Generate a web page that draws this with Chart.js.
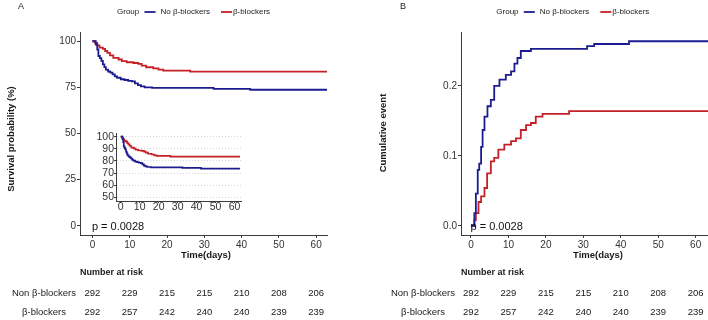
<!DOCTYPE html>
<html><head><meta charset="utf-8">
<script src="https://cdn.jsdelivr.net/npm/chart.js@4.4.1/dist/chart.umd.min.js"></script>
<style>
html,body{margin:0;padding:0;background:#fff;width:708px;height:320px;overflow:hidden}
canvas{position:absolute}
</style></head><body>
<canvas id="a" width="354" height="320" style="left:0;top:0"></canvas>
<canvas id="ai" width="162" height="92" style="left:86px;top:124px"></canvas>
<canvas id="b" width="354" height="320" style="left:354px;top:0"></canvas>
<script>
// ---- data ----
const groups = ['No β-blockers', 'β-blockers'];
const riskLabels = ['Non β-blockers', 'β-blockers'];
const xTicks = [0, 10, 20, 30, 40, 50, 60];
const survTicks = [0, 25, 50, 75, 100];
const insetTicks = [50, 60, 70, 80, 90, 100];
const cumTicks = [0, 0.1, 0.2];
const riskNo = [292, 229, 215, 215, 210, 208, 206];
const riskBB = [292, 257, 242, 240, 240, 239, 239];
const pValue = 'p = 0.0028';

// Panel A: survival probability (%)
const survNoT = [0, 0.9, 1.3, 1.6, 2.0, 2.4, 2.8, 3.2, 3.6, 4.2, 4.8, 5.4, 6.0, 6.6, 7.6, 8.6, 9.6, 10.6, 11.4, 12.2, 13.0, 14.0, 16.0, 32.5, 42.3, 62.9];
const survNoS = [100, 98.2, 95.5, 92.0, 90.8, 89.4, 87.5, 86.0, 84.6, 83.6, 83.0, 82.0, 81.0, 80.2, 79.4, 79.0, 78.5, 78.2, 77.2, 76.2, 75.5, 75.0, 74.7, 74.2, 73.7, 73.7];
const survBBT = [0, 0.7, 1.3, 1.9, 2.8, 3.4, 4.0, 4.7, 5.6, 7.0, 7.9, 9.2, 11.0, 12.3, 13.2, 14.4, 16.3, 17.7, 19.0, 26.2, 62.9];
const survBBS = [100, 99.1, 97.8, 96.5, 95.9, 94.7, 93.7, 92.3, 91.0, 90.1, 89.2, 88.6, 88.2, 87.7, 86.8, 85.9, 85.3, 84.6, 84.1, 83.5, 83.5];

// Panel B: cumulative event
const cumNoT = [0, 0.9, 1.3, 1.8, 2.2, 2.7, 3.1, 3.6, 4.4, 5.3, 6.2, 7.6, 9.3, 10.7, 11.6, 12.4, 13.3, 16.0, 31.0, 32.9, 42.2, 63.3];
const cumNoF = [0, 0.018, 0.046, 0.08, 0.089, 0.113, 0.137, 0.156, 0.171, 0.18, 0.2, 0.209, 0.216, 0.221, 0.232, 0.24, 0.25, 0.253, 0.257, 0.26, 0.264, 0.264];
const cumBBT = [0, 0.9, 1.3, 2.0, 2.7, 3.6, 4.3, 5.3, 6.2, 7.3, 8.9, 10.7, 12.0, 13.3, 14.7, 16.0, 17.3, 19.1, 26.2, 63.3];
const cumBBF = [0, 0.008, 0.018, 0.034, 0.042, 0.054, 0.075, 0.092, 0.097, 0.109, 0.116, 0.121, 0.125, 0.137, 0.144, 0.147, 0.156, 0.160, 0.164, 0.164];

// ---- style ----
const BLUE = '#1c1c8f';
const RED = '#c62128';
const AXIS = '#3c3c3c';
const FF = "'Liberation Sans', Arial, Helvetica, sans-serif";

function pts(t, v) { return t.map((x, i) => ({x: x, y: v[i]})); }
function ds(label, t, v, color, w) {
  return {label: label, data: pts(t, v), borderColor: color, backgroundColor: color,
    borderWidth: w, pointRadius: 0, stepped: true, fill: false, tension: 0};
}
function T(ctx, s, x, y, size, opt) {
  opt = opt || {};
  ctx.save();
  ctx.font = (opt.bold ? 'bold ' : '') + size + 'px ' + FF;
  ctx.fillStyle = opt.color || '#1a1a1a';
  ctx.textAlign = opt.align || 'left';
  ctx.textBaseline = 'middle';
  ctx.translate(x, y);
  if (opt.rot) ctx.rotate(opt.rot);
  ctx.fillText(s, 0, 0);
  ctx.restore();
}
function decor(L) {
  return {
    id: 'decor' + L.letter,
    afterDraw(chart) {
      const ctx = chart.ctx, xs = chart.scales.x, o = L.off;
      const dsets = chart.data.datasets;
      T(ctx, L.letter, L.letterX - o, 7, 9);
      const gx = L.legendX - o;
      T(ctx, 'Group', gx, 12, 8);
      ctx.save();
      ctx.lineWidth = 1.8;
      ctx.strokeStyle = dsets[0].borderColor;
      ctx.beginPath(); ctx.moveTo(gx + 27.5, 12); ctx.lineTo(gx + 38.5, 12); ctx.stroke();
      ctx.strokeStyle = dsets[1].borderColor;
      ctx.beginPath(); ctx.moveTo(gx + 104, 12); ctx.lineTo(gx + 115, 12); ctx.stroke();
      ctx.restore();
      T(ctx, dsets[0].label, gx + 43.5, 12, 8);
      T(ctx, dsets[1].label, gx + 116, 12, 8);
      T(ctx, L.yTitle, L.yTitleX - o, L.yTitleY, 9.5, {bold: true, align: 'center', rot: -Math.PI / 2});
      T(ctx, 'Time(days)', L.xTitleX - o, 255, 9.5, {bold: true, align: 'center'});
      T(ctx, pValue, xs.getPixelForValue(0) - 0.5, 227, 11, {color: '#111'});
      T(ctx, 'Number at risk', chart.chartArea.left, 272.7, 9, {bold: true});
      T(ctx, riskLabels[0], L.labelX - o, 293.3, 9.5, {align: 'center'});
      T(ctx, riskLabels[1], L.labelX - o, 312.7, 9.5, {align: 'center'});
      for (let i = 0; i < xTicks.length; i++) {
        const px = xs.getPixelForValue(xTicks[i]);
        T(ctx, String(riskNo[i]), px, 293.3, 9.5, {align: 'center'});
        T(ctx, String(riskBB[i]), px, 312.7, 9.5, {align: 'center'});
      }
    }
  };
}
function axisX(min, max, height, size, tl, pad) {
  return {
    type: 'linear', min: min, max: max,
    afterBuildTicks: s => { s.ticks = xTicks.map(v => ({value: v})); },
    afterFit: s => { s.height = height; },
    grid: {display: true, drawOnChartArea: false, drawTicks: true, tickLength: tl, color: AXIS, tickColor: AXIS},
    border: {display: true, color: AXIS, width: 1},
    ticks: {font: {family: FF, size: size, lineHeight: 1.2}, color: '#333', padding: pad, maxRotation: 0, autoSkip: false}
  };
}
function axisY(min, max, ticks, width, fmt) {
  return {
    type: 'linear', min: min, max: max,
    afterBuildTicks: s => { s.ticks = ticks.map(v => ({value: v})); },
    afterFit: s => { s.width = width; },
    grid: {display: true, drawOnChartArea: false, drawTicks: true, tickLength: 3, color: AXIS, tickColor: AXIS},
    border: {display: true, color: AXIS, width: 1},
    ticks: {font: {family: FF, size: 10}, color: '#333', padding: 1, callback: fmt, autoSkip: false}
  };
}
const base = {responsive: false, animation: false, devicePixelRatio: 1,
  plugins: {legend: {display: false}, tooltip: {enabled: false}, title: {display: false}}};

// Panel A
new Chart(document.getElementById('a'), {
  type: 'line',
  data: {datasets: [ds(groups[0], survNoT, survNoS, BLUE, 1.8), ds(groups[1], survBBT, survBBS, RED, 1.8)]},
  options: Object.assign({}, base, {
    layout: {padding: {left: 0, top: 32, right: 27, bottom: 0}},
    scales: {
      x: axisX(-3.33, 62.9, 85, 10, 3, 1),
      y: axisY(-5, 105, survTicks, 80, v => String(v))
    }
  }),
  plugins: [decor({letter: 'A', off: 0, letterX: 18, legendX: 117, yTitle: 'Survival probability (%)',
    yTitleX: 11, yTitleY: 139, xTitleX: 206, labelX: 44})]
});

// Inset of panel A
new Chart(document.getElementById('ai'), {
  type: 'line',
  data: {datasets: [ds(groups[0], survNoT, survNoS, BLUE, 1.7), ds(groups[1], survBBT, survBBS, RED, 1.7)]},
  options: Object.assign({}, base, {
    layout: {padding: {left: 0, top: 9, right: 7, bottom: 0}},
    scales: {
      x: {
        type: 'linear', min: -2.5, max: 63.4,
        afterBuildTicks: s => { s.ticks = xTicks.map(v => ({value: v})); },
        afterFit: s => { s.height = 15; },
        grid: {display: true, drawOnChartArea: false, tickLength: 2, color: AXIS, tickColor: AXIS},
        border: {display: true, color: AXIS, width: 1},
        ticks: {font: {family: FF, size: 10.5, lineHeight: 1}, color: '#333', padding: -1, maxRotation: 0, autoSkip: false}
      },
      y: {
        type: 'linear', min: 47, max: 103,
        afterBuildTicks: s => { s.ticks = insetTicks.map(v => ({value: v})); },
        afterFit: s => { s.width = 30; },
        grid: {display: true, drawOnChartArea: true, tickLength: 2, color: '#d4d4d4', tickColor: AXIS, lineWidth: 1},
        border: {display: true, color: AXIS, width: 1, dash: [1, 2]},
        ticks: {font: {family: FF, size: 10.5}, color: '#333', padding: 0, autoSkip: false}
      }
    }
  })
});

// Panel B
new Chart(document.getElementById('b'), {
  type: 'line',
  data: {datasets: [ds(groups[0], cumNoT, cumNoF, BLUE, 1.8), ds(groups[1], cumBBT, cumBBF, RED, 1.8)]},
  options: Object.assign({}, base, {
    layout: {padding: {left: 0, top: 32, right: 0, bottom: 0}},
    scales: {
      x: axisX(-2.67, 63.3, 85, 10, 3, 1),
      y: axisY(-0.0132, 0.2772, cumTicks, 107, v => Number(v).toFixed(1))
    }
  }),
  plugins: [decor({letter: 'B', off: 354, letterX: 400, legendX: 496.3, yTitle: 'Cumulative event',
    yTitleX: 383, yTitleY: 133, xTitleX: 598, labelX: 423})]
});
</script>
</body></html>
